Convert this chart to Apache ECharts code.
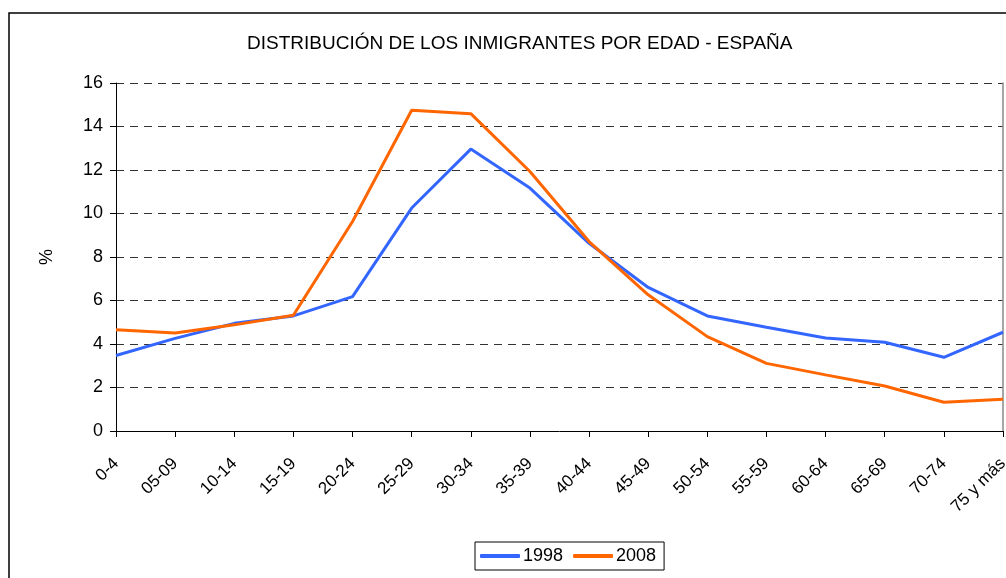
<!DOCTYPE html>
<html>
<head>
<meta charset="utf-8">
<script src="https://cdn.jsdelivr.net/npm/echarts@6/dist/echarts.min.js"></script>
<style>
html, body { margin: 0; padding: 0; background: #fff; }
#chart { width: 1006px; height: 578px; }
</style>
</head>
<body>
<div id="chart"></div>
<script>
// grupos de edad
var edades = ['0-4', '05-09', '10-14', '15-19', '20-24', '25-29', '30-34', '35-39',
    '40-44', '45-49', '50-54', '55-59', '60-64', '65-69', '70-74', '75 y más'];
var serie1998 = [3.47, 4.26, 4.95, 5.29, 6.18, 10.25, 12.96, 11.17,
    8.63, 6.6, 5.29, 4.77, 4.28, 4.08, 3.39, 4.54];
var serie2008 = [4.66, 4.51, 4.88, 5.32, 9.63, 14.75, 14.59, 11.93,
    8.71, 6.26, 4.34, 3.11, 2.58, 2.07, 1.32, 1.46];

var chart = echarts.init(document.getElementById('chart'));
var fuente = '"Liberation Sans", Arial, sans-serif';

var option = {
    animation: false,
    textStyle: { fontFamily: fuente },
    title: {
        text: 'DISTRIBUCIÓN DE LOS INMIGRANTES POR EDAD - ESPAÑA',
        left: 242,
        top: 29,
        textStyle: { fontSize: 19, fontWeight: 'normal', color: '#000', fontFamily: fuente }
    },
    graphic: [{
        type: 'rect',
        shape: { x: 9, y: 13, width: 1010, height: 580 },
        style: { fill: 'none', stroke: '#000', lineWidth: 1.5 },
        silent: true
    }],
    legend: {
        left: 475,
        top: 542,
        padding: [5, 8, 5, 5],
        itemGap: 10,
        itemWidth: 40,
        itemHeight: 4,
        borderColor: '#000',
        borderWidth: 1,
        borderRadius: 0,
        icon: 'roundRect',
        textStyle: { fontSize: 18, color: '#000', fontFamily: fuente, padding: [0, 0, 0, -2] },
        data: ['1998', '2008']
    },
    grid: { left: 116, right: 3, top: 83, bottom: 147, outerBoundsMode: 'none' },
    xAxis: {
        type: 'category',
        boundaryGap: false,
        data: edades,
        axisLine: { lineStyle: { color: '#000', width: 1 } },
        axisTick: { length: 6, lineStyle: { color: '#000' }, alignWithLabel: true },
        axisLabel: { rotate: 45, fontSize: 17, color: '#000', margin: 30, interval: 0, fontFamily: fuente }
    },
    yAxis: [{
        type: 'value',
        min: 0,
        max: 16,
        interval: 2,
        name: '%',
        nameLocation: 'middle',
        nameGap: 60,
        nameRotate: 90,
        nameTextStyle: { fontSize: 18, color: '#000', fontFamily: fuente },
        axisLine: { show: true, lineStyle: { color: '#000', width: 1 } },
        axisTick: { show: true, length: 6, lineStyle: { color: '#000' } },
        axisLabel: { fontSize: 18, color: '#000', margin: 13, fontFamily: fuente },
        splitLine: { lineStyle: { color: '#333', type: [8, 6], width: 1 } }
    }, {
        type: 'value',
        position: 'right',
        min: 0,
        max: 16,
        interval: 2,
        axisLine: { show: true, lineStyle: { color: '#888', width: 1.5 } },
        axisTick: { show: false },
        axisLabel: { show: false },
        splitLine: { show: false }
    }],
    series: [{
        name: '1998',
        type: 'line',
        data: serie1998,
        symbol: 'none',
        color: '#3366FF',
        lineStyle: { width: 3, color: '#3366FF' }
    }, {
        name: '2008',
        type: 'line',
        data: serie2008,
        symbol: 'none',
        color: '#FF6600',
        lineStyle: { width: 3, color: '#FF6600' }
    }]
};

chart.setOption(option);
</script>
</body>
</html>
